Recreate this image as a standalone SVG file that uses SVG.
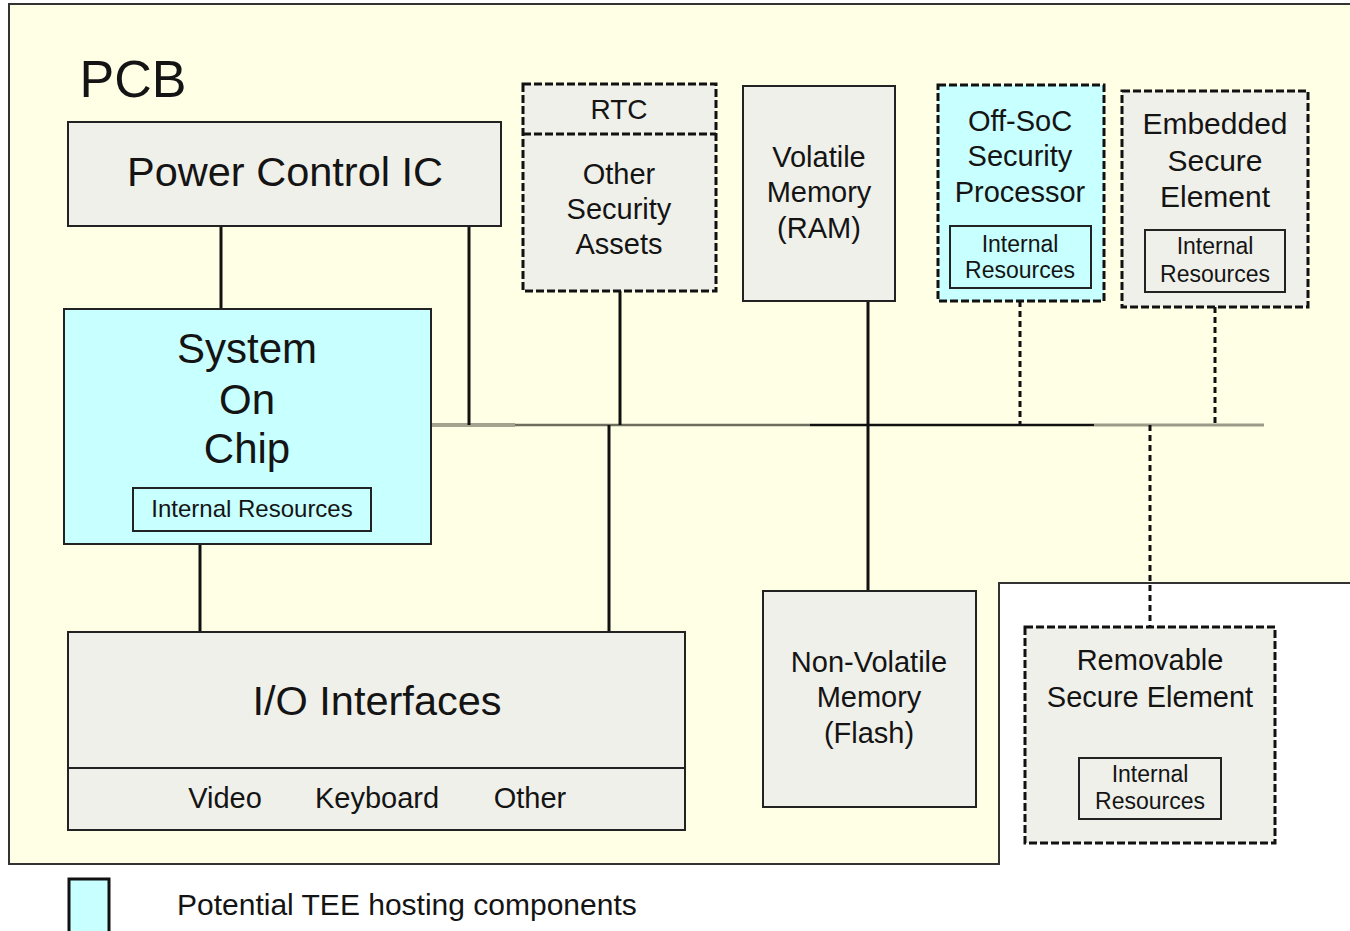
<svg xmlns="http://www.w3.org/2000/svg" width="1350" height="931" viewBox="0 0 1350 931">
<style>
text{font-family:"Liberation Sans",Arial,sans-serif;fill:#141414;text-anchor:middle}
.box{fill:#f0f0ea;stroke:#222;stroke-width:2}
.tee{fill:#c8ffff;stroke:#222;stroke-width:2}
.dash{stroke:#111;stroke-width:3;stroke-dasharray:8,3}
.inner{fill:none;stroke:#222;stroke-width:2}
.conn{stroke:#111;stroke-width:3;fill:none}
.dot{stroke:#111;stroke-width:3;fill:none;stroke-dasharray:6,4}
.big{font-size:40px}
.mid{font-size:29px}
.sm{font-size:23px}
</style>
<rect width="1350" height="931" fill="#fff"/>
<g id="pcb">
<path d="M9,4 H1352 V583 H999 V864 H9 Z" fill="#ffffe6" stroke="#333" stroke-width="2"/>
<text x="133" y="97" style="font-size:52px">PCB</text>
</g>
<g id="connectors">
<line x1="431" y1="425" x2="515" y2="425" stroke="#a3a38f" stroke-width="4"/>
<line x1="515" y1="425" x2="810" y2="425" stroke="#6e6e5e" stroke-width="2.5"/>
<line x1="810" y1="425" x2="1094" y2="425" stroke="#111" stroke-width="2.5"/>
<line x1="1094" y1="425" x2="1264" y2="425" stroke="#9c9c88" stroke-width="3"/>
<line class="conn" x1="221" y1="226" x2="221" y2="310"/>
<line class="conn" x1="469" y1="226" x2="469" y2="425"/>
<line class="conn" x1="620" y1="291" x2="620" y2="425"/>
<line class="conn" x1="609" y1="425" x2="609" y2="632"/>
<line class="conn" x1="868" y1="301" x2="868" y2="591"/>
<line class="conn" x1="200" y1="544" x2="200" y2="632"/>
<line class="dot" x1="1020" y1="301" x2="1020" y2="425"/>
<line class="dot" x1="1215" y1="307" x2="1215" y2="425"/>
<line class="dot" x1="1150" y1="425" x2="1150" y2="627"/>
</g>
<g id="power-control-ic">
<rect class="box" x="68" y="122" width="433" height="104"/>
<text class="big" x="285" y="186" style="font-size:41.5px">Power Control IC</text>
</g>
<g id="soc">
<rect class="tee" x="64" y="309" width="367" height="235"/>
<text x="247" y="363" style="font-size:42px">System</text>
<text x="247" y="414" style="font-size:42px">On</text>
<text x="247" y="463" style="font-size:42px">Chip</text>
<rect class="inner" x="133" y="488" width="238" height="43"/>
<text class="sm" x="252" y="517" style="font-size:24px">Internal Resources</text>
</g>
<g id="rtc-other">
<rect class="box dash" x="523" y="84" width="193" height="207"/>
<line class="dash" x1="523" y1="134" x2="716" y2="134"/>
<text x="619" y="119" style="font-size:28px">RTC</text>
<text class="mid" x="619" y="184">Other</text>
<text class="mid" x="619" y="219">Security</text>
<text class="mid" x="619" y="254">Assets</text>
</g>
<g id="ram">
<rect class="box" x="743" y="86" width="152" height="215"/>
<text class="mid" x="819" y="167">Volatile</text>
<text class="mid" x="819" y="202">Memory</text>
<text class="mid" x="819" y="238">(RAM)</text>
</g>
<g id="off-soc">
<rect class="tee dash" x="938" y="85" width="166" height="216"/>
<text class="mid" x="1020" y="131">Off-SoC</text>
<text class="mid" x="1020" y="166">Security</text>
<text class="mid" x="1020" y="202">Processor</text>
<rect class="inner" x="950" y="226" width="141" height="62"/>
<text class="sm" x="1020" y="252">Internal</text>
<text class="sm" x="1020" y="278">Resources</text>
</g>
<g id="embedded-se">
<rect class="box dash" x="1122" y="91" width="186" height="216"/>
<text class="mid" x="1215" y="134" style="font-size:30px">Embedded</text>
<text class="mid" x="1215" y="171" style="font-size:30px">Secure</text>
<text class="mid" x="1215" y="207" style="font-size:30px">Element</text>
<rect class="inner" x="1145" y="230" width="140" height="62"/>
<text class="sm" x="1215" y="254">Internal</text>
<text class="sm" x="1215" y="282">Resources</text>
</g>
<g id="flash">
<rect class="box" x="763" y="591" width="213" height="216"/>
<text class="mid" x="869" y="672">Non-Volatile</text>
<text class="mid" x="869" y="707">Memory</text>
<text class="mid" x="869" y="743">(Flash)</text>
</g>
<g id="removable-se">
<rect class="box dash" x="1025" y="627" width="250" height="216"/>
<text class="mid" x="1150" y="670">Removable</text>
<text class="mid" x="1150" y="707">Secure Element</text>
<rect class="inner" x="1079" y="758" width="142" height="61"/>
<text class="sm" x="1150" y="782">Internal</text>
<text class="sm" x="1150" y="809">Resources</text>
</g>
<g id="io">
<rect class="box" x="68" y="632" width="617" height="198"/>
<line x1="68" y1="768" x2="685" y2="768" stroke="#222" stroke-width="2"/>
<text class="big" x="377" y="715" style="font-size:41.5px">I/O Interfaces</text>
<text class="mid" x="225" y="808">Video</text>
<text class="mid" x="377" y="808">Keyboard</text>
<text class="mid" x="530" y="808">Other</text>
</g>
<g id="legend">
<rect x="69" y="879" width="40" height="56" fill="#c8ffff" stroke="#111" stroke-width="3"/>
<text x="177" y="915" style="font-size:30px;text-anchor:start">Potential TEE hosting components</text>
</g>
</svg>
